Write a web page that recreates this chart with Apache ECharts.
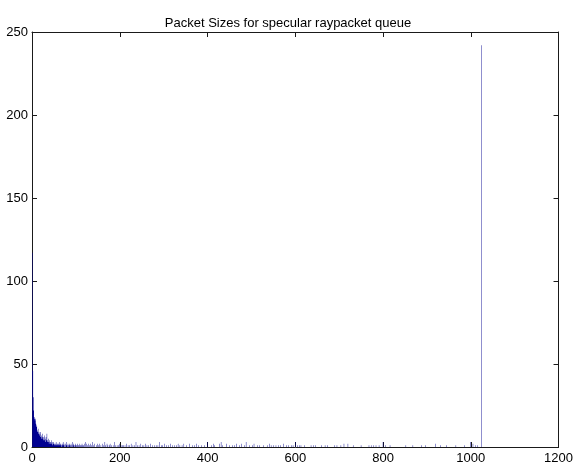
<!DOCTYPE html>
<html>
<head>
<meta charset="utf-8">
<script src="https://cdn.jsdelivr.net/npm/echarts@6/dist/echarts.min.js"></script>
<style>
  html, body { margin: 0; padding: 0; background: #fff; }
  #chart { width: 576px; height: 465px; }
</style>
</head>
<body>
<div id="chart"></div>
<script>
// Histogram of packet sizes (packet size -> number of packets), sparse: only non-zero bins listed
const chartTitle = 'Packet Sizes for specular raypacket queue';

const packetSizes = [
  1, 2, 3, 4, 5, 6, 7, 8, 9, 10, 11, 12, 13, 14, 15, 16, 17, 18, 19, 20,
  21, 22, 23, 24, 25, 26, 27, 28, 29, 30, 31, 32, 33, 34, 35, 36, 37, 38, 39, 40,
  41, 42, 43, 44, 45, 46, 47, 48, 49, 50, 51, 52, 53, 54, 55, 56, 57, 58, 59, 60,
  61, 62, 63, 64, 65,
  66, 67, 69, 70, 71, 72, 73, 75, 76, 78, 79, 80, 82, 83, 85, 86, 88, 89, 91, 92,
  94, 95, 97, 99, 100, 102, 104, 105, 107, 109, 111, 112, 114, 116, 118, 120,
  122, 124, 126, 129, 131, 133, 135, 138, 140, 143, 147, 149, 152, 154, 157, 160,
  163, 166, 168, 171, 173, 176, 178, 181, 185, 188, 191, 194, 197, 200, 203, 206,
  209, 212, 215, 219, 222, 226, 230, 234, 237, 240, 244, 248, 252, 255, 259, 262,
  266, 270, 275, 279, 283, 287, 291, 295, 298, 302, 306, 311, 316, 320, 325, 329,
  333, 337, 342, 346,
  352, 359, 366, 370, 375, 379, 386, 393, 400, 409, 413, 416, 427, 431, 434, 443,
  450, 457, 462, 466, 473, 477, 484, 488, 496, 502, 506, 514, 518, 527, 536, 541,
  545, 550, 556, 562,
  566, 573, 580, 584, 591, 595, 600, 605, 609, 613, 621, 636, 641, 646, 660, 668,
  673, 689, 695, 704, 711, 720, 732, 750, 768, 773, 779, 784,
  791, 800, 806, 816, 852, 868, 888, 897, 920, 931, 945, 966, 986, 1000, 1005, 1011,
  1016, 1024
];

const packetCounts = [
  117, 46, 30, 22, 18, 17, 16, 17, 14, 12, 13, 10, 9, 11, 8, 9, 7, 8, 6, 9,
  7, 5, 6, 8, 5, 4, 6, 7, 4, 5, 3, 6, 4, 8, 3, 4, 5, 3, 2, 4,
  3, 2, 3, 4, 2, 3, 1, 2, 3, 2, 1, 2, 1, 2, 3, 1, 2, 1, 2, 1,
  2, 3, 1, 2, 1,
  2, 1, 2, 1, 3, 1, 2, 1, 2, 1, 3, 1, 2, 1, 2, 1, 1, 2, 1, 3,
  1, 2, 1, 2, 1, 1, 2, 1, 1, 2, 1, 1, 2, 1, 1, 2,
  3, 2, 1, 2, 1, 2, 1, 3, 1, 2, 1, 2, 1, 2, 1, 2,
  1, 3, 1, 2, 1, 1, 2, 1, 1, 3, 1, 1, 1, 2, 1, 1,
  1, 1, 2, 1, 1, 2, 1, 1, 3, 1, 1, 2, 1, 1, 2, 1,
  1, 2, 1, 1, 1, 1, 3, 1, 1, 2, 1, 1, 2, 1, 1, 1,
  2, 1, 1, 2,
  1, 2, 1, 1, 2, 1, 1, 1, 3, 1, 2, 1, 2, 3, 1, 2,
  1, 1, 1, 2, 1, 2, 1, 3, 1, 1, 2, 1, 1, 1, 1, 2,
  1, 1, 1, 1,
  1, 2, 1, 1, 1, 1, 3, 1, 1, 1, 1, 1, 1, 1, 1, 1,
  1, 1, 1, 1, 2, 2, 1, 1, 1, 1, 1, 1,
  1, 3, 1, 1, 1, 1, 1, 1, 2, 1, 1, 1, 1, 3, 2, 1,
  1, 242
];

const xTicks = { min: 0, max: 1200, step: 200 };
const yTicks = { min: 0, max: 250, step: 50 };

// Expand the sparse bins into a full histogram (bins without packets count 0)
const maxSize = packetSizes[packetSizes.length - 1] + 1;
const countBySize = new Map(packetSizes.map((s, i) => [s, packetCounts[i]]));
const histData = [];
for (let s = 0; s <= maxSize; s++) {
  histData.push([s, countBySize.get(s) || 0]);
}

const chart = echarts.init(document.getElementById('chart'), null, { renderer: 'canvas' });

const axisColor = '#1a1a1a';
const fontFamily = 'Liberation Sans, Arial, Helvetica, sans-serif';
const labelFont = { color: '#000', fontSize: 13, fontFamily: fontFamily };

function frameAxis(extra) {
  return Object.assign({
    type: 'value',
    axisLine: { show: true, onZero: false, lineStyle: { color: axisColor, width: 1 } },
    axisTick: { show: true, inside: true, length: 5, lineStyle: { color: axisColor } },
    splitLine: { show: false }
  }, extra);
}

const plainNumber = function (v) { return String(v); };

// One filled stair outline over all bins, each bin one unit wide, so touching
// bars merge into a single solid shape
function renderHistogram(params, api) {
  const pts = [api.coord([histData[0][0] - 0.5, 0])];
  for (let i = 0; i < histData.length; i++) {
    const s = histData[i][0];
    const c = histData[i][1];
    pts.push(api.coord([s - 0.5, c]));
    pts.push(api.coord([s + 0.5, c]));
  }
  pts.push(api.coord([histData[histData.length - 1][0] + 0.5, 0]));
  return {
    type: 'polygon',
    shape: { points: pts },
    style: { fill: '#000090' }
  };
}

chart.setOption({
  animation: false,
  backgroundColor: '#fff',
  title: {
    text: chartTitle,
    left: 'center',
    top: 12,
    textStyle: { fontSize: 13, fontWeight: 'normal', color: '#000', fontFamily: fontFamily }
  },
  grid: { left: 32, right: 16, top: 32, bottom: 17, containLabel: false },
  xAxis: [
    frameAxis({ position: 'bottom', min: xTicks.min, max: xTicks.max, interval: xTicks.step,
      axisLabel: Object.assign({ margin: 5, formatter: plainNumber }, labelFont) }),
    frameAxis({ position: 'top', min: xTicks.min, max: xTicks.max, interval: xTicks.step,
      axisLabel: { show: false } })
  ],
  yAxis: [
    frameAxis({ position: 'left', min: yTicks.min, max: yTicks.max, interval: yTicks.step,
      axisLabel: Object.assign({ margin: 4, formatter: plainNumber }, labelFont) }),
    frameAxis({ position: 'right', min: yTicks.min, max: yTicks.max, interval: yTicks.step,
      axisLabel: { show: false } })
  ],
  series: [{
    type: 'custom',
    xAxisIndex: 0,
    yAxisIndex: 0,
    data: [[0, 0]],
    renderItem: renderHistogram,
    clip: true,
    z: 1
  }]
});
</script>
</body>
</html>
